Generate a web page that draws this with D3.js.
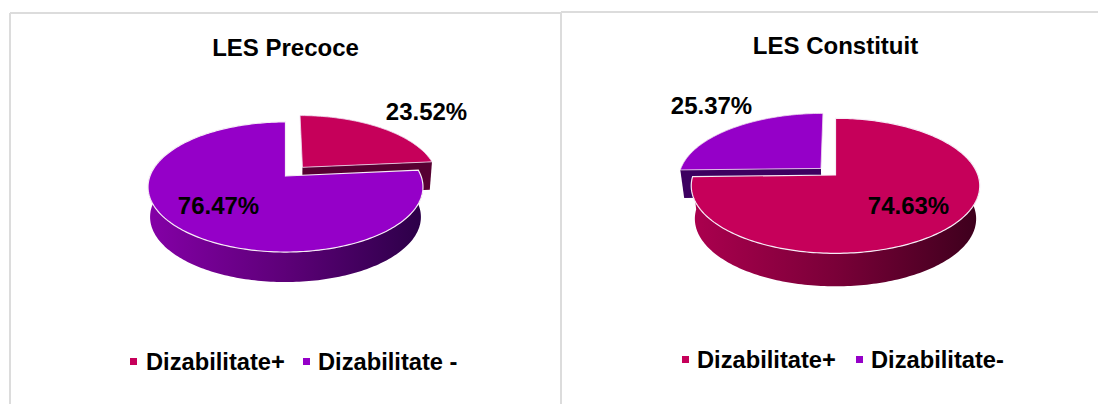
<!DOCTYPE html>
<html><head><meta charset="utf-8">
<script src="https://cdn.jsdelivr.net/npm/d3@7"></script>
<style>html,body{margin:0;padding:0;background:#fff}svg{display:block}
text{font-family:"Liberation Sans",Arial,sans-serif;font-weight:700;fill:#000}</style>
</head><body><svg id="c" width="1098" height="405"></svg>
<script>
const titles = ["LES Precoce", "LES Constituit"];
const precoceValues = [23.52, 76.47];
const constituitValues = [74.63, 25.37];
const precoceLegend = ["Dizabilitate+", "Dizabilitate -"];
const constituitLegend = ["Dizabilitate+", "Dizabilitate-"];
const magenta = "#c6005a", purple = "#9500c8";

const svg = d3.select("#c");
const defs = svg.append("defs");

function grad(id, stops, x1, x2){
  const g = defs.append("linearGradient").attr("id", id).attr("gradientUnits","userSpaceOnUse")
    .attr("x1",x1).attr("x2",x2).attr("y1",0).attr("y2",0);
  stops.forEach((c,i)=>g.append("stop").attr("offset",i/(stops.length-1)).attr("stop-color",c));
}

function drawPie(o){
  const pie = d3.pie().sort(null).value(d=>d)(o.values);
  const proj = (u,v,z=0)=>{
    const s = z ? o.bottomScale : 1, w = 1 - o.k*v;
    return [o.vx + s*o.B*u/w, o.vy + o.A*v/w + z];
  };
  const pt = (a,off)=>[Math.sin(a)+off[0], -Math.cos(a)+off[1]];
  const line = d3.line();
  const arcPts = (a0,a1,off,z=0)=>{
    const n = Math.max(2,Math.ceil((a1-a0)/0.02));
    return d3.range(n+1).map(i=>{const p=pt(a0+(a1-a0)*i/n,off);return proj(p[0],p[1],z);});
  };
  const g = svg.append("g");
  const main = pie[o.mainIndex], ex = pie[1-o.mainIndex];
  const mid = (ex.startAngle+ex.endAngle)/2;
  const off = [o.explode*Math.sin(mid), -o.explode*Math.cos(mid)];
  // cut face of the exploded slice
  const faceA = ex.startAngle < 0.01 ? ex.endAngle : ex.startAngle;
  const fp = pt(faceA,off);
  g.append("path").attr("fill",o.faceColor).attr("d",line([
    proj(off[0],off[1]),proj(fp[0],fp[1]),proj(fp[0],fp[1],o.faceDepth),proj(off[0],off[1],o.faceDepth)])+"Z");
  // top of the exploded slice
  g.append("path").attr("fill",o.exColor).attr("stroke","#efdcef").attr("stroke-width",0.8)
    .attr("d",line([proj(off[0],off[1])].concat(arcPts(ex.startAngle,ex.endAngle,off)))+"Z");
  // outer wall of main slice
  const a0 = Math.max(main.startAngle,Math.PI/2-0.3), a1 = Math.min(main.endAngle,3*Math.PI/2+0.3);
  g.append("path").attr("fill",`url(#${o.gradId})`)
    .attr("d",line(arcPts(a0,a1,[0,0]).concat(arcPts(a0,a1,[0,0],o.depth).reverse()))+"Z");
  // top of main slice
  g.append("path").attr("fill",o.mainColor).attr("stroke","#f6ecf6").attr("stroke-width",1.2)
    .attr("d",line([proj(0,0)].concat(arcPts(main.startAngle,main.endAngle,[0,0])))+"Z");

  o.labels.forEach((l,i)=>{
    const v = o.values[i];
    g.append("text").attr("x",l[0]).attr("y",l[1]).attr("text-anchor","middle")
      .attr("font-size",o.fs).text(v.toFixed(2)+"%");
  });
  svg.append("text").attr("x",o.titleX).attr("y",o.titleY).attr("text-anchor","middle")
    .attr("font-size",o.fs).text(o.title);
  o.legend.forEach((t,i)=>{
    const L = o.legendPos[i];
    svg.append("rect").attr("x",L[0]).attr("y",L[2]-12).attr("width",7).attr("height",7)
      .attr("fill",i===0?magenta:purple);
    svg.append("text").attr("x",L[1]).attr("y",L[2]).attr("font-size",o.legendFs).text(t);
  });
}

// chart frames
const frame = [[10,404,10,13],[10,13,561,13],[561,404,561,12],[561,12,1098,12]];
svg.selectAll("line.f").data(frame).join("line").attr("class","f")
  .attr("x1",d=>d[0]).attr("y1",d=>d[1]).attr("x2",d=>d[2]).attr("y2",d=>d[3])
  .attr("stroke","#dcdcdc").attr("stroke-width",2);

grad("wallP",["#8400a6","#5d0078","#2c0048"],150,422);
grad("wallM",["#aa004e","#7a0038","#3e001d"],695,976);

drawPie({values:precoceValues,mainIndex:1,mainColor:purple,exColor:magenta,faceColor:"#570032",gradId:"wallP",
  vx:285.5,vy:176,A:63.2,B:135.5,k:0.169,depth:30,faceDepth:28,bottomScale:0.985,explode:0.19,
  labels:[[426.5,120],[218.5,214]],fs:24,legendFs:23.7,title:titles[0],titleX:285.5,titleY:56,
  legend:precoceLegend,legendPos:[[130,146,370],[303,318,370]]});
drawPie({values:constituitValues,mainIndex:0,mainColor:magenta,exColor:purple,faceColor:"#3d0060",gradId:"wallM",
  vx:835.5,vy:175,A:65.8,B:142.4,k:0.16,depth:33,faceDepth:28,bottomScale:0.975,explode:0.145,
  labels:[[908.5,214],[711.5,114]],fs:24,legendFs:23.7,title:titles[1],titleX:835.5,titleY:54,
  legend:constituitLegend,legendPos:[[682,697,368],[856,871,368]]});
</script></body></html>
